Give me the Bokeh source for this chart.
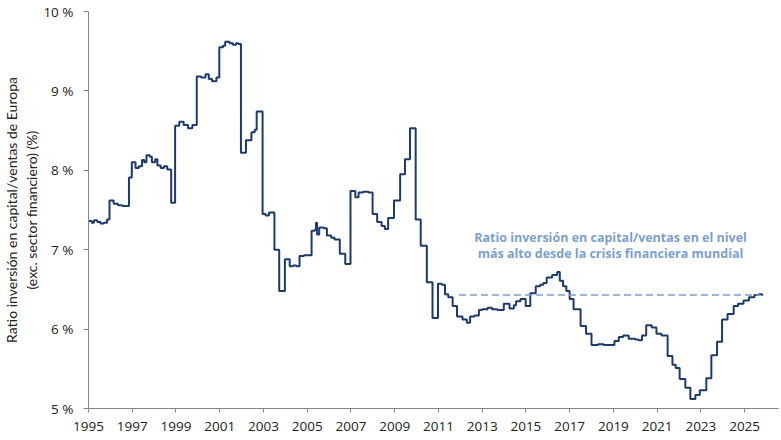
from bokeh.plotting import figure
from bokeh.models import FixedTicker, Range1d, Label, ColumnDataSource, Title
from bokeh.embed import file_html
from bokeh.resources import INLINE

# ---- data (decimal year, ratio %) ----
dates = [
    1995.00, 1995.15, 1995.25, 1995.40, 1995.55, 1995.70, 1995.85, 1995.96,
    1996.15, 1996.35, 1996.55, 1996.85, 1996.98, 1997.15, 1997.30, 1997.45,
    1997.55, 1997.65, 1997.80, 1997.90, 1998.05, 1998.15, 1998.30, 1998.45,
    1998.60, 1998.78, 1998.96, 1999.15, 1999.35, 1999.55, 1999.75, 1999.95,
    2000.15, 2000.35, 2000.50, 2000.65, 2000.85, 2000.98, 2001.15, 2001.25,
    2001.45, 2001.60, 2001.75, 2001.85, 2001.97, 2002.20, 2002.45, 2002.60,
    2002.69, 2002.96, 2003.10, 2003.25, 2003.50, 2003.72, 2003.98, 2004.20,
    2004.35, 2004.50, 2004.65, 2004.85, 2005.20, 2005.35, 2005.40, 2005.45,
    2005.55, 2005.75, 2005.90, 2006.10, 2006.25, 2006.49, 2006.74, 2006.98,
    2007.20, 2007.35, 2007.55, 2007.80, 2007.99, 2008.20, 2008.40, 2008.55,
    2008.70, 2008.97, 2009.25, 2009.47, 2009.70, 2009.96, 2010.19, 2010.47,
    2010.73, 2010.98, 2011.15, 2011.30, 2011.45, 2011.65, 2011.85, 2012.10,
    2012.30, 2012.45, 2012.65, 2012.85, 2013.00, 2013.25, 2013.45, 2013.70,
    2013.99, 2014.25, 2014.45, 2014.55, 2014.75, 2014.99, 2015.20, 2015.45,
    2015.65, 2015.80, 2015.95, 2016.20, 2016.43, 2016.55, 2016.70, 2016.85,
    2017.00, 2017.18, 2017.50, 2017.75, 2018.00, 2018.30, 2018.55, 2018.80,
    2019.05, 2019.25, 2019.45, 2019.70, 2020.00, 2020.15, 2020.31, 2020.50,
    2020.75, 2020.97, 2021.20, 2021.48, 2021.70, 2021.85, 2022.03, 2022.29,
    2022.52, 2022.75, 2022.95, 2023.25, 2023.48, 2023.74, 2023.97, 2024.22,
    2024.50, 2024.70, 2024.95, 2025.20, 2025.45, 2025.65, 2025.80,
]
ratio = [
    7.36, 7.34, 7.37, 7.35, 7.33, 7.34, 7.38, 7.62,
    7.58, 7.56, 7.55, 7.91, 8.10, 8.03, 8.05, 8.13,
    8.10, 8.19, 8.17, 8.10, 8.14, 8.06, 8.03, 8.05,
    8.01, 7.59, 8.56, 8.61, 8.57, 8.53, 8.57, 9.18,
    9.17, 9.21, 9.15, 9.12, 9.17, 9.55, 9.57, 9.62,
    9.60, 9.58, 9.60, 9.59, 8.22, 8.38, 8.48, 8.51,
    8.74, 7.45, 7.43, 7.47, 7.00, 6.48, 6.88, 6.79,
    6.80, 6.79, 6.92, 6.93, 7.24, 7.25, 7.34, 7.19,
    7.28, 7.27, 7.18, 7.15, 7.13, 6.95, 6.82, 7.74,
    7.66, 7.72, 7.73, 7.72, 7.45, 7.35, 7.30, 7.26,
    7.40, 7.62, 7.95, 8.14, 8.53, 7.38, 7.05, 6.59,
    6.14, 6.57, 6.56, 6.44, 6.40, 6.29, 6.16, 6.12,
    6.08, 6.16, 6.17, 6.24, 6.25, 6.27, 6.25, 6.24,
    6.32, 6.26, 6.30, 6.35, 6.38, 6.29, 6.45, 6.54,
    6.56, 6.58, 6.65, 6.68, 6.72, 6.61, 6.54, 6.48,
    6.38, 6.25, 6.04, 5.94, 5.80, 5.81, 5.80, 5.80,
    5.85, 5.90, 5.92, 5.88, 5.87, 5.86, 5.92, 6.05,
    6.02, 5.94, 5.92, 5.66, 5.55, 5.51, 5.37, 5.26,
    5.12, 5.17, 5.23, 5.38, 5.67, 5.84, 6.12, 6.19,
    6.29, 6.32, 6.36, 6.40, 6.43, 6.44, 6.42,
]

ref_level = 6.43
ref_span = [2011.94, 2025.70]

x_ticks = list(range(1995, 2026, 2))
y_ticks = [5, 6, 7, 8, 9, 10]
y_tick_labels = ["5 %", "6 %", "7 %", "8 %", "9 %", "10 %"]

y_title_lines = ["Ratio inversión en capital/ventas de Europa",
                 "(exc. sector financiero) (%)"]
note_lines = ["Ratio inversión en capital/ventas en el nivel",
              "más alto desde la crisis financiera mundial"]
note_x = 2018.87
note_y = [7.15, 6.95]

FONT = "Open Sans"
TXT = "#222222"
AXC = "#858585"
LINE = "#1b3a6d"
NOTE = "#7b9fd3"

p = figure(width=781, height=440, output_backend="svg", toolbar_location=None,
           x_range=Range1d(1995, 2026.55), y_range=Range1d(5, 10),
           min_border_left=87, min_border_right=3, min_border_top=11,
           min_border_bottom=32)
p.outline_line_color = None
p.xgrid.visible = False
p.ygrid.visible = False
p.background_fill_color = "white"
p.border_fill_color = "white"

src = ColumnDataSource(dict(x=dates, y=ratio))
p.step("x", "y", source=src, mode="after", line_color=LINE, line_width=2)

p.line(ref_span, [ref_level, ref_level], line_color=NOTE, line_width=1.6,
       line_dash="7 4")

for ln, yy in zip(note_lines, note_y):
    p.add_layout(Label(x=note_x, y=yy, text=ln, text_align="center",
                       text_baseline="middle", text_font=FONT,
                       text_font_style="bold", text_font_size="12.5px",
                       text_color=NOTE))

# two-line rotated y title: second line nearest the axis
for ln, so in zip(reversed(y_title_lines), [2, 0]):
    p.add_layout(Title(text=ln, align="center", offset=-12, standoff=so,
                       text_font="Lato", text_font_size="14px",
                       text_font_style="normal", text_color=TXT), "left")

xa = p.xaxis[0]
xa.ticker = FixedTicker(ticks=x_ticks)
xa.axis_line_color = AXC
xa.major_tick_line_color = AXC
xa.minor_tick_line_color = None
xa.major_tick_out = 4
xa.major_tick_in = 0
xa.major_label_standoff = 9
xa.major_label_text_font = FONT
xa.major_label_text_font_size = "13.5px"
xa.major_label_text_color = TXT

ya = p.yaxis[0]
ya.ticker = FixedTicker(ticks=y_ticks)
ya.major_label_overrides = {t: l for t, l in zip(y_ticks, y_tick_labels)}
ya.axis_line_color = AXC
ya.major_tick_line_color = AXC
ya.minor_tick_line_color = None
ya.major_tick_out = 5
ya.major_tick_in = 0
ya.major_label_standoff = 10
ya.major_label_text_font = FONT
ya.major_label_text_font_size = "13.5px"
ya.major_label_text_color = TXT

open("out.html", "w").write(file_html(p, INLINE))
